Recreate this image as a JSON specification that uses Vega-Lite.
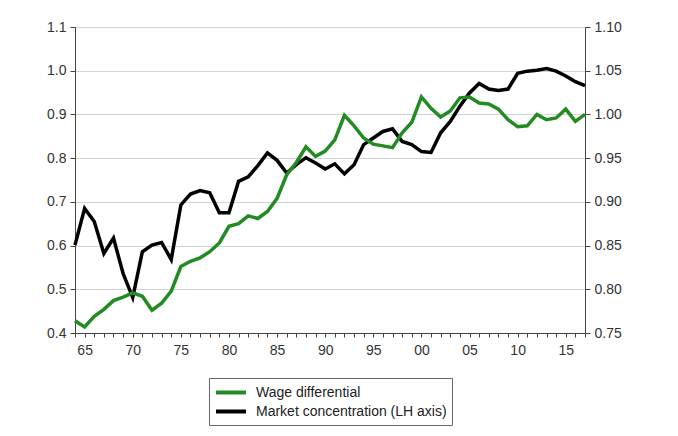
{
  "$schema": "https://vega.github.io/schema/vega-lite/v6.json",
  "autosize": "none",
  "width": 510,
  "height": 306,
  "padding": {"left": 75, "top": 27, "right": 93, "bottom": 103},
  "background": "white",
  "config": {
    "font": "Liberation Sans",
    "view": {"stroke": "#444", "strokeWidth": 1},
    "axis": {
      "labelFont": "Liberation Sans",
      "labelFontSize": 14,
      "labelColor": "#333",
      "domainColor": "#444",
      "tickColor": "#444",
      "tickSize": 4,
      "labelPadding": 4,
      "title": null
    }
  },
  "datasets": {
    "concentration": [
      {"year": 1964, "value": 0.601}, {"year": 1965, "value": 0.685}, {"year": 1966, "value": 0.655},
      {"year": 1967, "value": 0.582}, {"year": 1968, "value": 0.617}, {"year": 1969, "value": 0.536},
      {"year": 1970, "value": 0.481}, {"year": 1971, "value": 0.586}, {"year": 1972, "value": 0.601},
      {"year": 1973, "value": 0.607}, {"year": 1974, "value": 0.568}, {"year": 1975, "value": 0.693},
      {"year": 1976, "value": 0.718}, {"year": 1977, "value": 0.726}, {"year": 1978, "value": 0.721},
      {"year": 1979, "value": 0.675}, {"year": 1980, "value": 0.675}, {"year": 1981, "value": 0.747},
      {"year": 1982, "value": 0.757}, {"year": 1983, "value": 0.783}, {"year": 1984, "value": 0.812},
      {"year": 1985, "value": 0.795}, {"year": 1986, "value": 0.766}, {"year": 1987, "value": 0.785},
      {"year": 1988, "value": 0.801}, {"year": 1989, "value": 0.789}, {"year": 1990, "value": 0.775},
      {"year": 1991, "value": 0.787}, {"year": 1992, "value": 0.764}, {"year": 1993, "value": 0.785},
      {"year": 1994, "value": 0.831}, {"year": 1995, "value": 0.846}, {"year": 1996, "value": 0.861},
      {"year": 1997, "value": 0.867}, {"year": 1998, "value": 0.838}, {"year": 1999, "value": 0.831},
      {"year": 2000, "value": 0.815}, {"year": 2001, "value": 0.813}, {"year": 2002, "value": 0.858},
      {"year": 2003, "value": 0.884}, {"year": 2004, "value": 0.919}, {"year": 2005, "value": 0.949},
      {"year": 2006, "value": 0.971}, {"year": 2007, "value": 0.958}, {"year": 2008, "value": 0.955},
      {"year": 2009, "value": 0.958}, {"year": 2010, "value": 0.994}, {"year": 2011, "value": 0.999},
      {"year": 2012, "value": 1.001}, {"year": 2013, "value": 1.005}, {"year": 2014, "value": 0.999},
      {"year": 2015, "value": 0.988}, {"year": 2016, "value": 0.975}, {"year": 2017, "value": 0.966}
    ],
    "wage": [
      {"year": 1964, "value": 0.764}, {"year": 1965, "value": 0.757}, {"year": 1966, "value": 0.769},
      {"year": 1967, "value": 0.777}, {"year": 1968, "value": 0.787}, {"year": 1969, "value": 0.791},
      {"year": 1970, "value": 0.796}, {"year": 1971, "value": 0.792}, {"year": 1972, "value": 0.776},
      {"year": 1973, "value": 0.784}, {"year": 1974, "value": 0.798}, {"year": 1975, "value": 0.826},
      {"year": 1976, "value": 0.832}, {"year": 1977, "value": 0.836}, {"year": 1978, "value": 0.843},
      {"year": 1979, "value": 0.853}, {"year": 1980, "value": 0.872}, {"year": 1981, "value": 0.875},
      {"year": 1982, "value": 0.884}, {"year": 1983, "value": 0.881}, {"year": 1984, "value": 0.889},
      {"year": 1985, "value": 0.904}, {"year": 1986, "value": 0.931}, {"year": 1987, "value": 0.945},
      {"year": 1988, "value": 0.963}, {"year": 1989, "value": 0.952}, {"year": 1990, "value": 0.958},
      {"year": 1991, "value": 0.971}, {"year": 1992, "value": 0.999}, {"year": 1993, "value": 0.987},
      {"year": 1994, "value": 0.973}, {"year": 1995, "value": 0.966}, {"year": 1996, "value": 0.964},
      {"year": 1997, "value": 0.962}, {"year": 1998, "value": 0.979}, {"year": 1999, "value": 0.991},
      {"year": 2000, "value": 1.020}, {"year": 2001, "value": 1.007}, {"year": 2002, "value": 0.997},
      {"year": 2003, "value": 1.004}, {"year": 2004, "value": 1.019}, {"year": 2005, "value": 1.020},
      {"year": 2006, "value": 1.013}, {"year": 2007, "value": 1.012}, {"year": 2008, "value": 1.006},
      {"year": 2009, "value": 0.994}, {"year": 2010, "value": 0.986}, {"year": 2011, "value": 0.987},
      {"year": 2012, "value": 1.000}, {"year": 2013, "value": 0.994}, {"year": 2014, "value": 0.996},
      {"year": 2015, "value": 1.006}, {"year": 2016, "value": 0.992}, {"year": 2017, "value": 1.000}
    ]
  },
  "encoding": {
    "x": {
      "field": "year",
      "type": "quantitative",
      "scale": {"domain": [1964, 2017], "nice": false, "zero": false},
      "axis": {
        "values": [1964, 1965, 1966, 1967, 1968, 1969, 1970, 1971, 1972, 1973, 1974, 1975, 1976, 1977, 1978, 1979, 1980, 1981, 1982, 1983, 1984, 1985, 1986, 1987, 1988, 1989, 1990, 1991, 1992, 1993, 1994, 1995, 1996, 1997, 1998, 1999, 2000, 2001, 2002, 2003, 2004, 2005, 2006, 2007, 2008, 2009, 2010, 2011, 2012, 2013, 2014, 2015, 2016, 2017],
        "labelExpr": "datum.value % 5 == 0 ? slice(format(datum.value, 'd'), 2) : ''",
        "labelOverlap": false,
        "labelPadding": 6,
        "tickSize": 4,
        "grid": false
      }
    }
  },
  "layer": [
    {
      "data": {"name": "concentration"},
      "mark": {"type": "line", "strokeWidth": 3.5, "strokeJoin": "miter"},
      "encoding": {
        "y": {
          "field": "value",
          "type": "quantitative",
          "scale": {"domain": [0.4, 1.1], "nice": false, "zero": false},
          "axis": {
            "orient": "left",
            "values": [0.4, 0.5, 0.6, 0.7, 0.8, 0.9, 1.0, 1.1],
            "format": ".1f",
            "grid": true,
            "gridColor": "#d4d4d4",
            "tickSize": 5
          }
        },
        "color": {
          "datum": "Market concentration (LH axis)",
          "scale": {
            "domain": ["Wage differential", "Market concentration (LH axis)"],
            "range": ["#228b22", "#000000"]
          },
          "legend": {
            "title": null,
            "orient": "none",
            "legendX": 134,
            "legendY": 351,
            "symbolType": "M-1,0H3",
            "symbolStrokeWidth": 4,
            "symbolSize": 225,
            "labelFont": "Liberation Sans",
            "labelFontSize": 14,
            "labelColor": "#222",
            "labelLimit": 400,
            "strokeColor": "#666",
            "padding": 5,
            "rowPadding": 1,
            "labelOffset": 23
          }
        }
      }
    },
    {
      "data": {"name": "wage"},
      "mark": {"type": "line", "strokeWidth": 3.5, "strokeJoin": "miter"},
      "encoding": {
        "y": {
          "field": "value",
          "type": "quantitative",
          "scale": {"domain": [0.75, 1.1], "nice": false, "zero": false},
          "axis": {
            "orient": "right",
            "values": [0.75, 0.8, 0.85, 0.9, 0.95, 1.0, 1.05, 1.1],
            "format": ".2f",
            "grid": false,
            "tickSize": 5
          }
        },
        "color": {"datum": "Wage differential"}
      }
    }
  ],
  "resolve": {"scale": {"y": "independent"}}
}
